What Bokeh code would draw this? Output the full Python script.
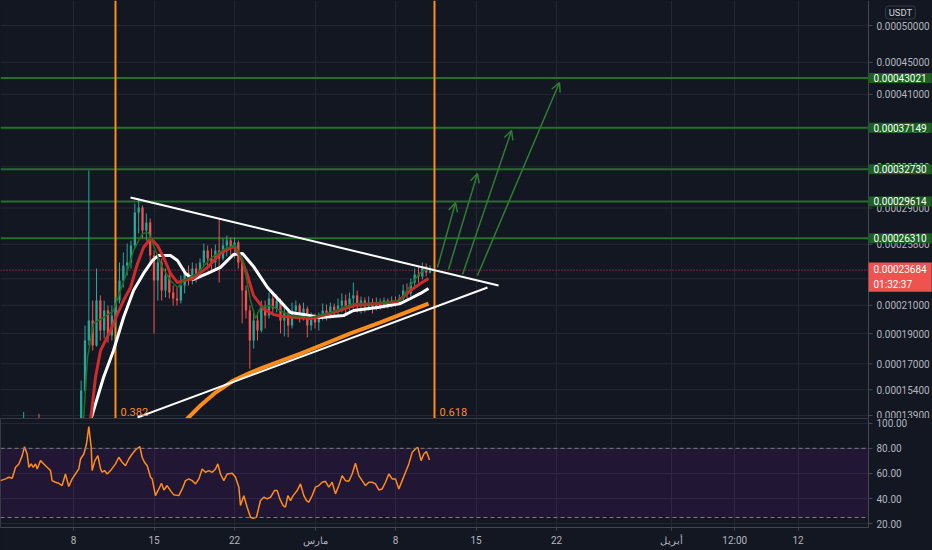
import numpy as np
from bokeh.plotting import figure
from bokeh.layouts import column
from bokeh.models import (Range1d, FixedTicker, CustomJSTickFormatter, PrintfTickFormatter,
                          Span, Label, Arrow, OpenHead, BoxAnnotation)
from bokeh.embed import file_html
from bokeh.resources import INLINE

# ---------------- data (prices in micro-USDT, time in days since 1 Feb) ----------------
MICRO = 1e-6
OFFSET = 1e-4          # price-axis shift used by the chart's compressed log scale

START_DAY = 4 / 3      # first 8h candle
STEP = 1 / 3           # 8h candles
OPEN0 = 127.0

CLOSE = [128, 129, 130, 129, 131, 130, 132, 131, 129, 130, 131, 130, 129, 128, 129, 130, 130,
         130.7, 132.9, 153.5, 185.3, 199.1, 181.9, 213.5, 192.1, 206.2, 188.7,
         202.6, 213.5, 228.7, 240.6, 243.0, 257.0, 285.9, 290.5, 269.9, 276.9,
         248.7, 228.7, 243.0, 221.0, 232.6, 219.5, 215.0, 213.5, 224.8, 234.9,
         228.7, 238.1, 232.6, 243.0, 252.8, 246.3, 243.0, 252.8, 246.3, 257.0,
         261.2, 254.5, 259.5, 243.0, 221.0, 206.2, 185.3, 199.1, 192.1, 209.8,
         202.6, 215.0, 207.6, 213.5, 199.1, 204.8, 195.6, 206.2, 209.8, 202.6,
         207.6, 195.6, 200.5, 197.7, 201.9, 206.2, 203.3, 209.1, 206.2, 209.8,
         213.5, 209.1, 215.0, 217.3, 209.8, 213.5, 209.1, 212.0, 207.6, 212.0,
         209.8, 213.5, 210.5, 213.5, 212.0, 215.0, 221.0, 218.8, 227.1, 233.4,
         231.8, 239.8, 234.9, 236.84]
HIGH = [130, 131, 132, 131, 141, 132, 133, 133, 140, 132, 133, 132, 131, 130, 131, 132, 131,
        132.9, 137.3, 159.6, 195.6, 326.1, 213.5, 238.1, 217.3, 213.5, 209.8,
        209.8, 216.5, 243.0, 251.2, 258.7, 261.2, 294.2, 298.9, 292.3, 285.0,
        280.5, 252.8, 248.7, 246.3, 238.1, 236.5, 224.8, 223.3, 232.6, 238.1,
        240.6, 243.0, 242.2, 246.3, 258.7, 257.0, 254.5, 257.8, 280.5, 262.9,
        265.5, 263.8, 263.8, 261.2, 246.3, 224.8, 209.8, 206.2, 204.8, 213.5,
        213.5, 219.5, 218.8, 218.0, 215.0, 209.8, 207.6, 212.0, 213.5, 211.3,
        212.0, 209.1, 204.8, 204.0, 204.8, 211.3, 210.5, 212.0, 211.3, 215.0,
        218.8, 218.0, 219.5, 227.1, 221.0, 216.5, 215.8, 216.5, 215.0, 215.8,
        215.0, 215.8, 215.0, 216.5, 216.5, 218.0, 225.6, 226.4, 230.3, 238.1,
        239.8, 243.0, 242.2, 240.6]
LOW = [126, 127, 128, 127, 128, 128, 129, 129, 127, 128, 129, 128, 127, 126, 127, 128, 128,
       129.1, 129.6, 131.8, 152.3, 181.9, 178.6, 181.2, 185.3, 186.7, 183.9,
       185.3, 194.2, 211.3, 223.3, 232.6, 238.1, 254.5, 267.3, 262.9, 261.2,
       243.0, 190.1, 213.5, 213.5, 215.8, 215.0, 209.8, 209.8, 211.3, 218.8,
       224.8, 225.6, 227.1, 230.3, 239.8, 239.0, 236.5, 238.1, 227.1, 244.6,
       247.9, 248.7, 246.3, 238.1, 197.0, 200.5, 166.9, 179.9, 185.3, 190.7,
       193.5, 200.5, 204.0, 204.8, 190.1, 188.0, 187.4, 193.5, 200.5, 197.7,
       199.1, 187.4, 192.1, 193.5, 192.1, 199.1, 199.1, 200.5, 201.2, 203.3,
       204.8, 204.0, 206.2, 207.6, 204.8, 204.0, 204.8, 206.2, 204.0, 206.2,
       206.9, 207.6, 207.6, 208.4, 209.1, 210.5, 213.5, 215.0, 216.5, 223.3,
       227.1, 229.5, 231.8, 234.2]

FAST_MA_DAYS = [7.5, 7.87, 8.22, 8.74, 9.61, 10.48, 11.09, 11.70, 12.22, 13.0, 13.52, 14.13, 14.74,
                15.43, 16.04, 16.57, 17.78, 18.91, 20.22, 21.09, 21.78, 22.39, 22.83, 23.26,
                24.13, 25.87, 27.61, 29.35, 31.35, 33.43, 35.43, 36.30, 37.17, 37.87]
FAST_MA = [128.0, 136.2, 174.0, 197.0, 201.2, 206.2, 221.0, 236.5, 252.8, 267.3, 268.2, 252.8, 239.0,
           228.7, 223.3, 228.7, 234.2, 246.3, 254.5, 257.0, 243.0, 213.5, 200.5, 208.4,
           209.8, 202.6, 201.2, 204.8, 211.3, 211.3, 213.5, 224.8, 234.9, 238.1]
RED_MA_DAYS = [8.30, 8.48, 8.91, 9.35, 10.22, 10.83, 11.35, 11.96, 12.57, 13.09, 13.70, 14.30,
               14.83, 15.43, 16.04, 16.57, 17.43, 18.65, 19.78, 20.91, 21.52, 22.13, 22.65,
               23.52, 24.39, 25.26, 26.48, 27.61, 29.35, 31.35, 33.43, 35.17, 36.30, 37.17, 37.87]
RED_MA = [129.6, 136.2, 161.4, 178.6, 192.1, 204.0, 213.5, 223.3, 242.2, 255.3, 262.9, 257.0,
          247.1, 234.2, 227.1, 228.7, 230.3, 239.0, 250.3, 256.2, 247.9, 232.6, 217.3,
          207.6, 203.3, 201.9, 201.2, 200.5, 204.0, 209.8, 211.3, 212.7, 221.0, 226.4, 230.3]
WHITE_MA_DAYS = [8.22, 8.48, 9.61, 10.48, 11.35, 12.22, 13.09, 13.87, 14.39, 15.43, 16.04, 16.74,
                 17.43, 18.65, 19.78, 20.91, 21.70, 22.65, 23.87, 25.0, 25.87, 27.0, 28.48,
                 30.48, 31.35, 33.43, 35.43, 36.30, 37.17, 37.87]
WHITE_MA = [129.6, 136.2, 161.4, 178.6, 201.2, 221.0, 234.2, 244.6, 248.7, 248.7, 244.6, 234.2,
            229.5, 234.2, 239.0, 249.5, 250.3, 239.8, 223.3, 212.7, 204.8, 203.3, 201.2,
            202.6, 206.2, 208.4, 211.3, 215.0, 218.8, 222.5]
SLOW_MA_DAYS = [15.87, 16.91, 18.04, 19.35, 20.91, 22.39, 23.52, 26.74, 28.48, 31.09, 33.70, 35.43, 37.87]
SLOW_MA = [129.6, 137.3, 144.7, 152.3, 159.6, 164.5, 167.7, 176.6, 181.9, 190.1, 197.7, 203.3, 211.3]

# triangle trend lines: (day, price) start -> end
UPPER_LINE = [(11.96, 299.8), (43.96, 224.8)]
LOWER_LINE = [(12.57, 137.9), (43.0, 223.3)]
# target arrows
ARROWS = [((38.65, 239.0), (40.22, 295.1)),
          ((39.61, 237.3), (42.13, 323.1)),
          ((40.83, 233.4), (45.09, 368.3)),
          ((42.13, 232.6), (49.26, 424.5))]
LEVELS = [430.21, 371.49, 327.30, 296.14, 263.10]
FIB_DAYS = [10.65, 38.39]
FIB_LABELS = ["0.382", "0.618"]
COUNTDOWN = "01:32:37"
CURRENCY = "USDT"

PRICE_TICKS = [500, 450, 410, 370, 330, 290, 258, 230, 210, 190, 170, 154, 139]
VIEW_LOW, VIEW_HIGH = 137.32, 536.47

RSI_DAYS = [0.65, 1.09, 1.38, 1.67, 1.96, 2.25, 2.54, 2.74, 2.97, 3.12,
            3.32, 3.49, 3.70, 3.84, 4.13, 4.42, 4.71, 5.0, 5.14, 5.43,
            5.72, 6.01, 6.30, 6.59, 6.88, 7.17, 7.46, 7.61, 7.90, 8.13,
            8.33, 8.54, 8.62, 8.86, 9.12, 9.35, 9.49, 9.70, 9.93, 10.22,
            10.65, 10.94, 11.23, 11.52, 11.81, 12.10, 12.39, 12.77, 12.97, 13.17,
            13.41, 13.70, 13.84, 14.13, 14.42, 14.65, 14.86, 15.14, 15.43, 15.72,
            16.16, 16.45, 16.74, 17.03, 17.32, 17.61, 17.90, 18.19, 18.48, 18.77,
            19.06, 19.35, 19.55, 19.78, 20.07, 20.36, 20.80, 21.09, 21.38, 21.52,
            21.81, 22.10, 22.39, 22.62, 22.91, 23.12, 23.26, 23.55, 23.84, 24.13,
            24.48, 24.71, 24.94, 25.23, 25.43, 25.64, 25.87, 26.10, 26.45, 26.74,
            27.03, 27.26, 27.46, 27.75, 28.04, 28.33, 28.62, 28.91, 29.20, 29.49,
            29.78, 30.07, 30.36, 30.65, 30.94, 31.23, 31.52, 31.81, 32.10, 32.39,
            32.68, 32.97, 33.26, 33.55, 33.84, 34.13, 34.42, 34.71, 35.0, 35.29,
            35.58, 35.87, 36.16, 36.45, 36.74, 36.94, 37.23, 37.46, 37.69, 37.96]
RSI_VALUES = [54.3, 55.7, 57.0, 56.2, 64.9, 67.6, 74.2, 81.3, 75.5, 64.9,
              67.6, 64.9, 67.6, 63.6, 70.2, 67.6, 64.9, 62.3, 54.3, 53.0,
              52.2, 50.4, 59.6, 49.6, 55.7, 59.6, 63.6, 71.5, 75.5, 83.4,
              97.2, 80.8, 62.3, 70.2, 74.2, 63.6, 61.0, 62.3, 59.6, 62.3,
              67.6, 72.9, 68.9, 66.2, 71.5, 75.5, 78.7, 81.3, 72.9, 68.9,
              66.2, 57.0, 55.7, 42.4, 47.7, 52.2, 46.9, 50.4, 46.4, 43.0,
              42.4, 47.7, 54.3, 55.7, 54.3, 51.7, 55.7, 63.6, 61.0, 62.3,
              61.0, 63.6, 67.6, 59.6, 54.3, 59.6, 60.2, 57.0, 49.1, 34.5,
              42.4, 33.2, 25.2, 24.4, 25.2, 33.2, 38.5, 41.1, 39.8, 41.1,
              46.4, 46.4, 39.8, 34.5, 33.2, 42.4, 38.5, 42.4, 46.4, 51.7,
              42.4, 38.5, 37.2, 42.4, 49.1, 50.4, 53.0, 53.8, 49.1, 53.0,
              43.8, 50.4, 58.3, 54.3, 53.8, 59.6, 68.1, 58.3, 54.3, 50.4,
              53.0, 53.0, 51.7, 46.9, 47.7, 53.0, 59.6, 55.7, 55.7, 47.7,
              54.3, 61.0, 67.6, 76.8, 79.5, 80.8, 70.2, 75.5, 77.4, 70.7]
RSI_UPPER, RSI_LOWER = 80, 25
RSI_TICKS = [20, 40, 60, 80, 100]

TICK_DAYS = [7, 14, 21, 28, 35, 42, 49, 59, 64.5, 70]
TICK_LABELS = ["8", "15", "22", "مارس", "8", "15", "22", "أبريل", "12:00", "12"]

# ---------------- layout / style ----------------
PX_PER_DAY = 11.5
DAY0 = 0.652            # day at the left edge
PLOT_W = 868            # chart area width (price scale sits to its right)
FULL_W = 932
MAIN_H, RSI_H, XAX_H = 418, 109, 23
AXIS_DAY = DAY0 + PLOT_W / PX_PER_DAY

BG = "#131722"
GRID = "#242833"
AXIS = "#434651"
TXT = "#b2b5be"
UP, DOWN = "#26a69a", "#ef5350"
GREEN_LINE, GREEN_BOX, GREEN_ARROW = "#256f2a", "#1d5f22", "#2f7d33"
ORANGE = "#ff8c1a"
FONT = "Roboto"


def sy(v):
    return np.asarray(v, dtype=float) * MICRO + OFFSET


close = np.array(CLOSE, dtype=float)
opn = np.concatenate([[OPEN0], close[:-1]])
days = START_DAY + np.arange(len(close)) * STEP
colors = [UP if c >= o else DOWN for o, c in zip(opn, close)]
xt = FixedTicker(ticks=TICK_DAYS, minor_ticks=[])

# ---------------- main price pane (frame spans the price-scale column too) ----------------
p = figure(frame_width=FULL_W, frame_height=MAIN_H,
           x_range=Range1d(DAY0, DAY0 + FULL_W / PX_PER_DAY),
           y_range=Range1d(float(sy(VIEW_LOW)), float(sy(VIEW_HIGH))),
           y_axis_type="log", y_axis_location="right", x_axis_location=None,
           toolbar_location=None, output_backend="svg",
           background_fill_color=BG, border_fill_color=BG, outline_line_color=None,
           min_border_left=0, min_border_top=0, min_border_bottom=0, min_border_right=0)

yt = FixedTicker(ticks=list(sy(PRICE_TICKS)), minor_ticks=[])
p.yaxis.ticker = yt
p.yaxis.formatter = CustomJSTickFormatter(code=f"return (tick - {OFFSET}).toFixed(8);")
p.yaxis.major_label_text_font_size = "10px"
p.yaxis.major_label_text_font = FONT
p.yaxis.major_label_text_color = TXT
p.yaxis.axis_line_color = None
p.yaxis.major_tick_line_color = None
p.yaxis.minor_tick_line_color = None
p.yaxis.major_tick_out = 0
p.yaxis.major_tick_in = 0
p.yaxis.major_label_standoff = -(FULL_W - PLOT_W - 8)
p.ygrid.visible = False
p.xgrid.ticker = xt
p.xgrid.grid_line_color = GRID

# horizontal grid + scale ticks, stopping at the price scale
tick_y = sy(PRICE_TICKS)
p.segment(x0=[DAY0] * len(tick_y), y0=tick_y, x1=[AXIS_DAY] * len(tick_y), y1=tick_y,
          line_color=GRID, line_width=1)
p.segment(x0=[AXIS_DAY] * len(tick_y), y0=tick_y, x1=[AXIS_DAY + 4 / PX_PER_DAY] * len(tick_y), y1=tick_y,
          line_color=AXIS, line_width=1)
p.add_layout(Span(location=AXIS_DAY, dimension="height", line_color=AXIS, line_width=1))

lv_y = sy(LEVELS)
p.segment(x0=[DAY0] * len(lv_y), y0=lv_y, x1=[AXIS_DAY] * len(lv_y), y1=lv_y,
          line_color=GREEN_LINE, line_width=2)
for d in FIB_DAYS:
    p.segment(x0=[d], y0=[float(sy(VIEW_LOW))], x1=[d], y1=[float(sy(VIEW_HIGH))],
              line_color=ORANGE, line_width=2)
p.segment(x0=[DAY0], y0=[float(sy(close[-1]))], x1=[AXIS_DAY], y1=[float(sy(close[-1]))],
          line_color=DOWN, line_dash="1 2", line_width=1, line_alpha=0.8)

# candles
p.segment(x0=days, y0=sy(LOW), x1=days, y1=sy(HIGH), line_color=colors, line_width=1)
p.vbar(x=days, width=STEP * 0.6, top=sy(np.maximum(opn, close)), bottom=sy(np.minimum(opn, close)),
       fill_color=colors, line_color=None)

# moving averages
p.line(SLOW_MA_DAYS, sy(SLOW_MA), line_color=ORANGE, line_width=4)
p.line(WHITE_MA_DAYS, sy(WHITE_MA), line_color="#ffffff", line_width=3)
p.line(RED_MA_DAYS, sy(RED_MA), line_color="#d02a2a", line_width=3)
p.line(FAST_MA_DAYS, sy(FAST_MA), line_color="#1f6e24", line_width=1.5)

# triangle
for (d0, v0), (d1, v1) in (UPPER_LINE, LOWER_LINE):
    p.segment(x0=[d0], y0=[float(sy(v0))], x1=[d1], y1=[float(sy(v1))], line_color="#ffffff", line_width=2)

for (d0, v0), (d1, v1) in ARROWS:
    p.add_layout(Arrow(end=OpenHead(size=9, line_color=GREEN_ARROW, line_width=1.5),
                       x_start=d0, y_start=float(sy(v0)), x_end=d1, y_end=float(sy(v1)),
                       line_color=GREEN_ARROW, line_width=1.5))

for d, t in zip(FIB_DAYS, FIB_LABELS):
    p.add_layout(Label(x=d, y=3, y_units="screen", x_offset=5, text=t, text_color=ORANGE,
                       text_font_size="11px", text_font=FONT, text_baseline="bottom"))

box_pad = dict(left=5, right=5, top=1, bottom=1)
for lv in LEVELS:
    p.add_layout(Label(x=AXIS_DAY, y=float(sy(lv)), text=f"{lv * MICRO:.8f}",
                       text_color="#ffffff", text_font_size="10px", text_font=FONT,
                       text_baseline="middle", text_align="left",
                       background_fill_color=GREEN_BOX, padding=box_pad))
p.add_layout(Label(x=AXIS_DAY, y=float(sy(close[-1])), y_offset=-7,
                   text=f"{close[-1] * MICRO:.8f}\n{COUNTDOWN}",
                   text_color="#ffffff", text_font_size="10px", text_font=FONT,
                   text_baseline="middle", text_align="left", text_line_height=1.3,
                   background_fill_color="#ef5350", padding=dict(left=5, right=5, top=2, bottom=2)))
p.add_layout(Label(x=900, x_units="screen", y=MAIN_H - 12, y_units="screen", text=CURRENCY,
                   text_color="#d1d4dc", text_font_size="9.5px", text_font=FONT,
                   text_baseline="middle", text_align="center",
                   border_line_color="#363a45", border_radius=3, padding=dict(left=3, right=3, top=1, bottom=1)))

# ---------------- RSI pane ----------------
r = figure(frame_width=PLOT_W, frame_height=RSI_H, x_range=Range1d(DAY0, AXIS_DAY),
           y_range=Range1d(17.06, 103.7),
           y_axis_location="right", toolbar_location=None, output_backend="svg",
           background_fill_color=BG, border_fill_color=BG, outline_line_color="#363a45",
           min_border_left=0, min_border_top=0, min_border_bottom=XAX_H,
           min_border_right=FULL_W - PLOT_W)
rt = FixedTicker(ticks=RSI_TICKS, minor_ticks=[])
r.yaxis.ticker = rt
r.ygrid.ticker = rt
r.xaxis.ticker = xt
r.xgrid.ticker = xt
r.grid.grid_line_color = GRID
r.yaxis.formatter = PrintfTickFormatter(format="%.2f")
labmap = ",".join(f'"{d}":"{t}"' for d, t in zip(TICK_DAYS, TICK_LABELS))
r.xaxis.formatter = CustomJSTickFormatter(code="const m = {" + labmap + "}; const k = String(tick); return (k in m) ? m[k] : '';")
for ax in (r.xaxis, r.yaxis):
    ax.major_label_text_font_size = "10px"
    ax.major_label_text_font = FONT
    ax.major_label_text_color = TXT
    ax.axis_line_color = AXIS
    ax.major_tick_line_color = AXIS
    ax.minor_tick_line_color = None
    ax.major_tick_in = 0
r.yaxis.major_tick_out = 4
r.yaxis.major_label_standoff = 4
r.xaxis.major_tick_out = 3
r.xaxis.major_label_standoff = 4

r.add_layout(BoxAnnotation(bottom=RSI_LOWER, top=RSI_UPPER, fill_color="#7b1fa2", fill_alpha=0.14,
                           line_color=None, level="underlay"))
for lv in (RSI_UPPER, RSI_LOWER):
    r.add_layout(Span(location=lv, dimension="width", line_color="#787b86", line_dash="4 3", line_width=1))
r.line(RSI_DAYS, RSI_VALUES, line_color=ORANGE, line_width=1.5)

layout = column(p, r, spacing=0)
layout.styles = {"background-color": BG}
open("out.html", "w").write(file_html(layout, INLINE))
